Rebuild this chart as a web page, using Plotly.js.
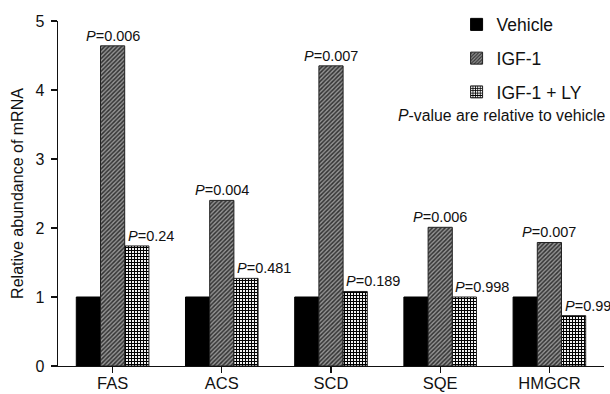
<!DOCTYPE html>
<html>
<head>
<meta charset="utf-8">
<script src="https://cdn.plot.ly/plotly-3.0.1.min.js"></script>
<style>html,body{margin:0;padding:0;background:#fff;}#chart{width:610px;height:394px;}</style>
</head>
<body>
<div id="chart"></div>
<script>
const categories = ["FAS", "ACS", "SCD", "SQE", "HMGCR"];
const vehicle = [1, 1, 1, 1, 1];
const igf1 = [4.64, 2.40, 4.35, 2.01, 1.79];
const igf1ly = [1.74, 1.27, 1.08, 1.00, 0.73];
const pIgf1 = ["0.006", "0.004", "0.007", "0.006", "0.007"];
const pIgf1ly = ["0.24", "0.481", "0.189", "0.998", "0.99"];
const yTicks = [0, 1, 2, 3, 4, 5];

const font = "Liberation Sans, Arial, Helvetica, sans-serif";
const xIdx = categories.map((c, i) => i);

const traces = [
  {type: "bar", name: "Vehicle", x: xIdx, y: vehicle, legendgroup: "a",
   marker: {color: "#000", line: {color: "#000", width: 1}}},
  {type: "bar", name: "IGF-1", x: xIdx, y: igf1, legendgroup: "b",
   marker: {color: "#888", line: {color: "#222", width: 1},
            pattern: {shape: "/", fgcolor: "#333", bgcolor: "#959595", size: 3, solidity: 0.5}}},
  {type: "bar", name: "IGF-1 + LY", x: xIdx, y: igf1ly, legendgroup: "c",
   marker: {color: "#fff", line: {color: "#222", width: 1},
            pattern: {shape: "+", fgcolor: "#000", bgcolor: "#fff", size: 3, solidity: 0.6}}}
];

const bargap = 0.335;
const barW = (1 - bargap) / 3;
const annotations = [];
const pFont = {family: font, size: 14.5, color: "#111"};
xIdx.forEach(i => {
  annotations.push({x: i, y: igf1[i], xref: "x", yref: "y", text: "<i>P</i>=" + pIgf1[i],
    showarrow: false, xanchor: "center", yanchor: "bottom", yshift: 0, font: pFont});
  annotations.push({x: i + barW / 2, y: igf1ly[i], xref: "x", yref: "y", text: "<i>P</i>=" + pIgf1ly[i],
    showarrow: false, xanchor: "left", yanchor: "bottom", xshift: 1, yshift: 0, font: pFont});
});
annotations.push({x: 1.005, xref: "paper", y: 111, yref: "paper", text: "<i>P</i>-value are relative to vehicle",
  showarrow: false, xanchor: "right", yanchor: "middle", font: {family: font, size: 15.8, color: "#111"}});

const layout = {
  width: 610, height: 394,
  margin: {l: 58, r: 6, t: 15, b: 28},
  paper_bgcolor: "#fff", plot_bgcolor: "#fff",
  font: {family: font, color: "#111"},
  barmode: "group", bargap: bargap, bargroupgap: 0,
  showlegend: true,
  legend: {x: 0.73, xanchor: "left", y: 1.042, yanchor: "top", traceorder: "grouped",
    tracegroupgap: 8, itemwidth: 30, font: {family: font, size: 17.5, color: "#111"}, bgcolor: "rgba(0,0,0,0)"},
  xaxis: {
    tickmode: "array", tickvals: xIdx, ticktext: categories,
    range: [-0.5, 4.5], tickson: "boundaries", ticks: "outside", ticklen: 6, tickwidth: 1.3, tickcolor: "#111",
    showline: true, linecolor: "#111", linewidth: 1.3, showgrid: false, zeroline: false,
    ticklabelstandoff: -4,
    tickfont: {family: font, size: 16.5, color: "#111"}
  },
  yaxis: {
    range: [0, 5], tickmode: "array", tickvals: yTicks, ticks: "outside", ticklen: 6, tickwidth: 1.3,
    tickcolor: "#111", showline: true, linecolor: "#111", linewidth: 1.3, showgrid: false, zeroline: false,
    ticklabelstandoff: 3,
    tickfont: {family: font, size: 16, color: "#111"},
    title: {text: "Relative abundance of mRNA", font: {family: font, size: 16, color: "#111"}, standoff: 8}
  },
  annotations: annotations
};
const plotH = layout.height - layout.margin.t - layout.margin.b;
annotations[annotations.length - 1].y = 1 - (111 - layout.margin.t) / plotH;

Plotly.newPlot("chart", traces, layout, {staticPlot: true});
</script>
</body>
</html>
